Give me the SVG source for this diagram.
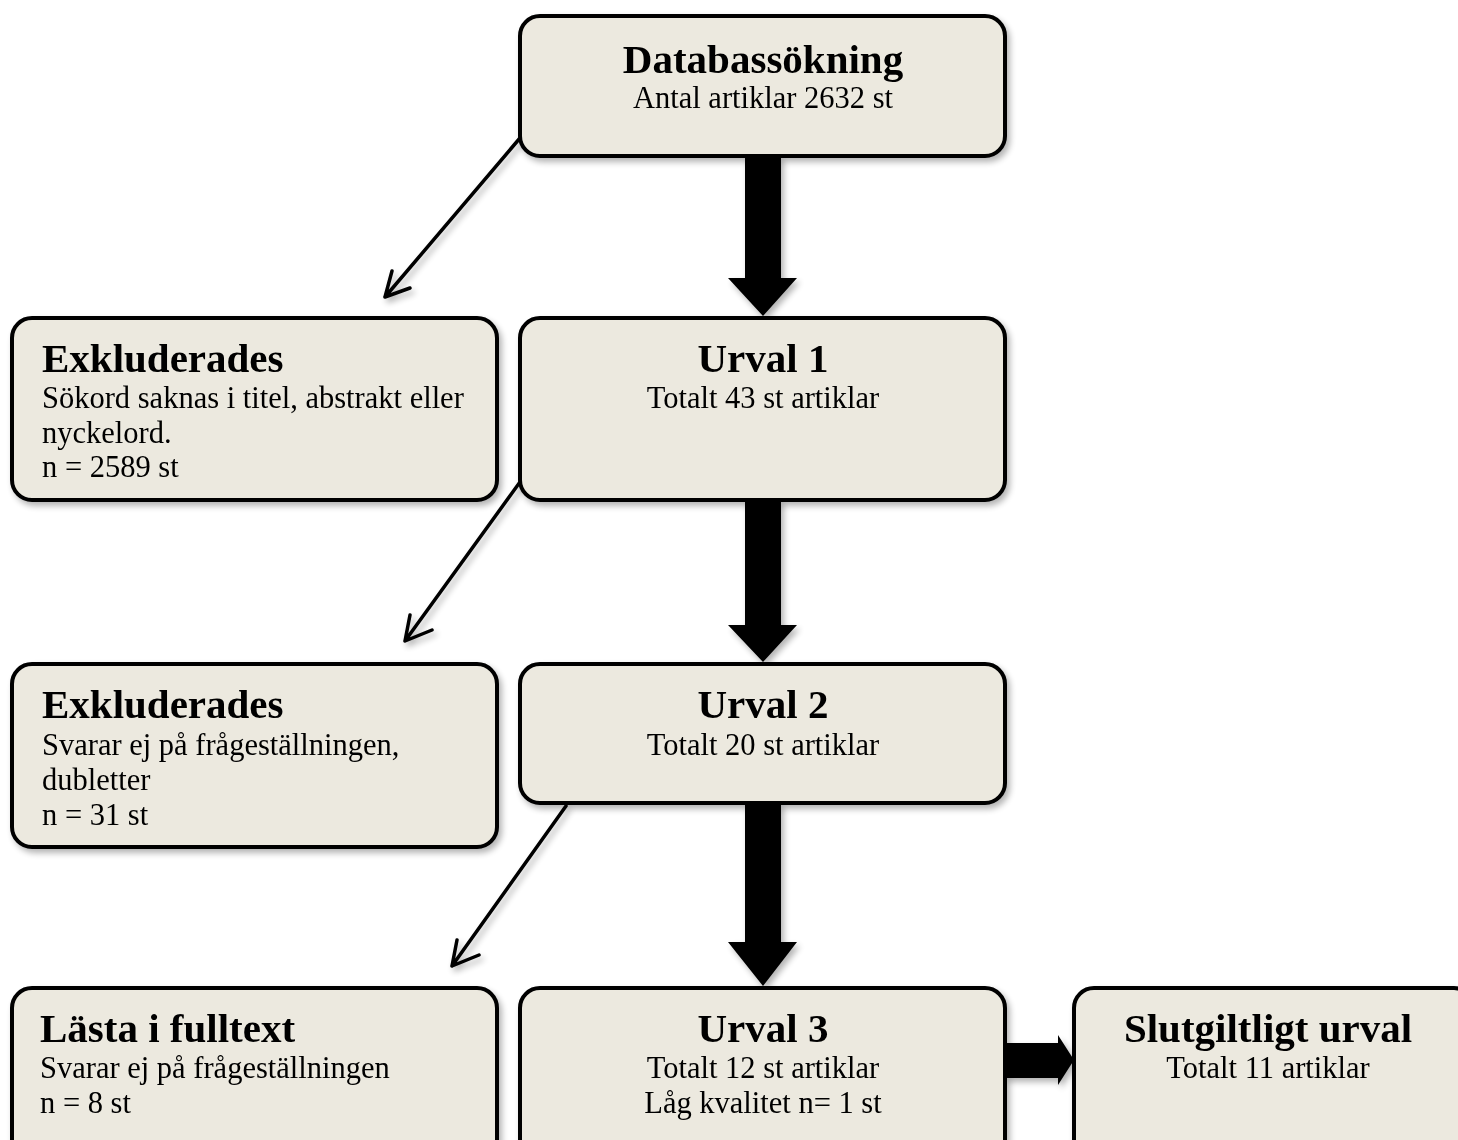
<svg xmlns="http://www.w3.org/2000/svg" width="1458" height="1140" viewBox="0 0 1458 1140">
<defs>
<style>
.box{fill:#ECE9DF;stroke:#000;stroke-width:4}
.t{font-family:"Liberation Serif","Times New Roman",serif;font-weight:bold;font-size:41px;fill:#000}
.s{font-family:"Liberation Serif","Times New Roman",serif;font-size:30.5px;fill:#000}
.c{text-anchor:middle}
.thin{stroke:#000;stroke-width:3.5;fill:none;stroke-linecap:round}
.fat{fill:#000}
</style>
<filter id="sh" x="-10%" y="-10%" width="130%" height="130%">
<feGaussianBlur in="SourceAlpha" stdDeviation="3"/>
<feOffset dx="3" dy="4" result="b"/>
<feComponentTransfer><feFuncA type="linear" slope="0.3"/></feComponentTransfer>
<feMerge><feMergeNode/><feMergeNode in="SourceGraphic"/></feMerge>
</filter>
</defs>
<rect width="1458" height="1140" fill="#fff"/>
<g id="connectors" filter="url(#sh)">
<polygon class="fat" points="745,156 781,156 781,278 797,278 763,316 728,278 745,278"/>
<polygon class="fat" points="745,500 781,500 781,625 797,625 763,662 728,625 745,625"/>
<polygon class="fat" points="745,803 781,803 781,942 797,942 763,986 728,942 745,942"/>
<polygon class="fat" points="1005,1043 1058,1043 1058,1035 1074,1060 1058,1085 1058,1078 1005,1078"/>
<path class="thin" d="M520,138 L385,297 M385,297 L392,271 M385,297 L410,288"/>
<path class="thin" d="M520,482 L405,641 M405,641 L410,615 M405,641 L432,630"/>
<path class="thin" d="M566,806 L452,966 M452,966 L457,940 M452,966 L479,955"/>
</g>
<g id="databas" filter="url(#sh)">
<rect class="box" x="520" y="16" width="485" height="140" rx="20"/>
<text class="t c" x="763" y="73">Databassökning</text>
<text class="s c" x="763" y="108">Antal artiklar 2632 st</text>
</g>
<g id="exkl1" filter="url(#sh)">
<rect class="box" x="12" y="318" width="485" height="182" rx="20"/>
<text class="t" x="42" y="372">Exkluderades</text>
<text class="s" x="42" y="408">Sökord saknas i titel, abstrakt eller</text>
<text class="s" x="42" y="443">nyckelord.</text>
<text class="s" x="42" y="477">n = 2589 st</text>
</g>
<g id="urval1" filter="url(#sh)">
<rect class="box" x="520" y="318" width="485" height="182" rx="20"/>
<text class="t c" x="763" y="372">Urval 1</text>
<text class="s c" x="763" y="408">Totalt 43 st artiklar</text>
</g>
<g id="exkl2" filter="url(#sh)">
<rect class="box" x="12" y="664" width="485" height="183" rx="20"/>
<text class="t" x="42" y="718">Exkluderades</text>
<text class="s" x="42" y="755">Svarar ej på frågeställningen,</text>
<text class="s" x="42" y="790">dubletter</text>
<text class="s" x="42" y="825">n = 31 st</text>
</g>
<g id="urval2" filter="url(#sh)">
<rect class="box" x="520" y="664" width="485" height="139" rx="20"/>
<text class="t c" x="763" y="718">Urval 2</text>
<text class="s c" x="763" y="755">Totalt 20 st artiklar</text>
</g>
<g id="lasta" filter="url(#sh)">
<rect class="box" x="12" y="988" width="485" height="180" rx="20"/>
<text class="t" x="40" y="1042">Lästa i fulltext</text>
<text class="s" x="40" y="1078">Svarar ej på frågeställningen</text>
<text class="s" x="40" y="1113">n = 8 st</text>
</g>
<g id="urval3" filter="url(#sh)">
<rect class="box" x="520" y="988" width="485" height="180" rx="20"/>
<text class="t c" x="763" y="1042">Urval 3</text>
<text class="s c" x="763" y="1078">Totalt 12 st artiklar</text>
<text class="s c" x="763" y="1113">Låg kvalitet n= 1 st</text>
</g>
<g id="slut" filter="url(#sh)">
<rect class="box" x="1074" y="988" width="400" height="180" rx="20"/>
<text class="t c" x="1268" y="1042">Slutgiltligt urval</text>
<text class="s c" x="1268" y="1078">Totalt 11 artiklar</text>
</g>
</svg>
